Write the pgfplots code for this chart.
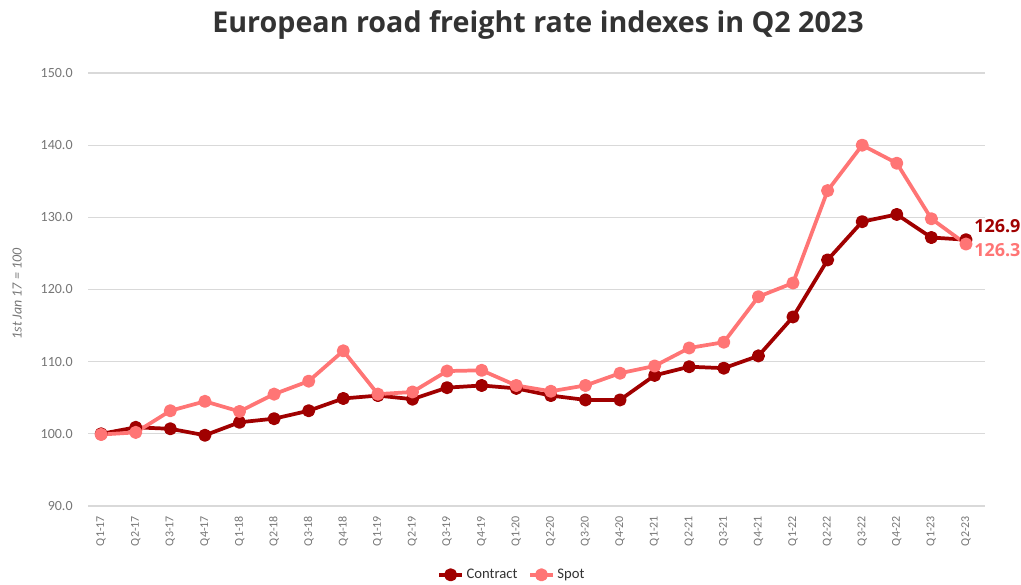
\documentclass[border=0pt]{standalone}
\usepackage{fontspec}
\setmainfont{Carlito}
\newfontfamily\titlefont{Open Sans}
\usepackage{pgfplots}
\pgfplotsset{compat=1.18}
\definecolor{contract}{RGB}{160,0,0}
\definecolor{spot}{RGB}{255,117,117}
\definecolor{gridc}{RGB}{217,217,217}
\definecolor{tickc}{RGB}{118,118,118}
\definecolor{titlec}{RGB}{51,51,51}

\pgfplotstableread{
x contract spot
0  100.0 99.9
1  100.9 100.2
2  100.7 103.2
3  99.8  104.5
4  101.6 103.1
5  102.1 105.5
6  103.2 107.3
7  104.9 111.5
8  105.3 105.5
9  104.8 105.8
10 106.4 108.7
11 106.7 108.8
12 106.3 106.7
13 105.3 105.9
14 104.7 106.7
15 104.7 108.4
16 108.1 109.4
17 109.3 111.9
18 109.1 112.7
19 110.8 119.0
20 116.2 120.9
21 124.1 133.7
22 129.4 140.0
23 130.4 137.5
24 127.2 129.8
25 126.9 126.3
}\datatable

\begin{document}
\begin{tikzpicture}[x=1pt,y=1pt]
\useasboundingbox (0,0) rectangle (765.75,438.75);
\node[font=\titlefont\bfseries\fontsize{21.5}{25}\selectfont, text=titlec] at (403.5,420) {European road freight rate indexes in Q2 2023};
\begin{axis}[
  at={(66pt,59.25pt)}, anchor=south west,
  scale only axis, width=672.75pt, height=324.75pt,
  xmin=-0.38, xmax=25.55, ymin=90, ymax=150,
  ytick={90,100,...,150},
  xtick={0,...,25},
  xticklabels={Q1-17,Q2-17,Q3-17,Q4-17,Q1-18,Q2-18,Q3-18,Q4-18,Q1-19,Q2-19,Q3-19,Q4-19,Q1-20,Q2-20,Q3-20,Q4-20,Q1-21,Q2-21,Q3-21,Q4-21,Q1-22,Q2-22,Q3-22,Q4-22,Q1-23,Q2-23},
  x tick label style={rotate=90, anchor=east, font=\fontsize{9}{10}\selectfont, text=tickc},
  y tick label style={font=\fontsize{10.5}{12}\selectfont, text=tickc},
  xticklabel shift=4pt,
  yticklabel shift=8pt,
  /pgf/number format/fixed,
  /pgf/number format/fixed zerofill,
  /pgf/number format/precision=1,
  /pgf/number format/assume math mode=true,
  axis line style={draw=none},
  tick style={draw=none},
  ymajorgrids, grid style={gridc, line width=0.9pt},
  ylabel={1st Jan 17 = 100},
  ylabel style={at={(axis description cs:-0.079,0.49)}, anchor=center, font=\itshape\fontsize{10.5}{12}\selectfont, text=tickc},
  clip=false,
  legend style={at={(axis description cs:0.473,-0.159)}, anchor=center, draw=none, font=\fontsize{11}{13}\selectfont, text=titlec, legend columns=2, /tikz/every even column/.append style={column sep=6pt}, inner sep=1pt},
  legend cell align=left,
  legend image code/.code={\draw[#1, mark repeat=2, mark phase=2] plot coordinates {(0cm,0cm) (0.3cm,0cm) (0.6cm,0cm)};},
]
\addplot[contract, line width=2.8pt, line join=round, mark=*, mark size=3.5pt] table[x=x, y=contract] {\datatable};
\addlegendentry{Contract}
\addplot[spot, line width=2.8pt, line join=round, mark=*, mark size=3.5pt] table[x=x, y=spot] {\datatable};
\addlegendentry{Spot}
\node[anchor=west, xshift=6pt, yshift=10pt, inner sep=0pt, font=\titlefont\bfseries\fontsize{13.5}{16}\selectfont, text=contract] at (axis cs:25,126.9) {126.9};
\node[anchor=west, xshift=6pt, yshift=-4.5pt, inner sep=0pt, font=\titlefont\bfseries\fontsize{13.5}{16}\selectfont, text=spot] at (axis cs:25,126.3) {126.3};
\end{axis}
\end{tikzpicture}
\end{document}
